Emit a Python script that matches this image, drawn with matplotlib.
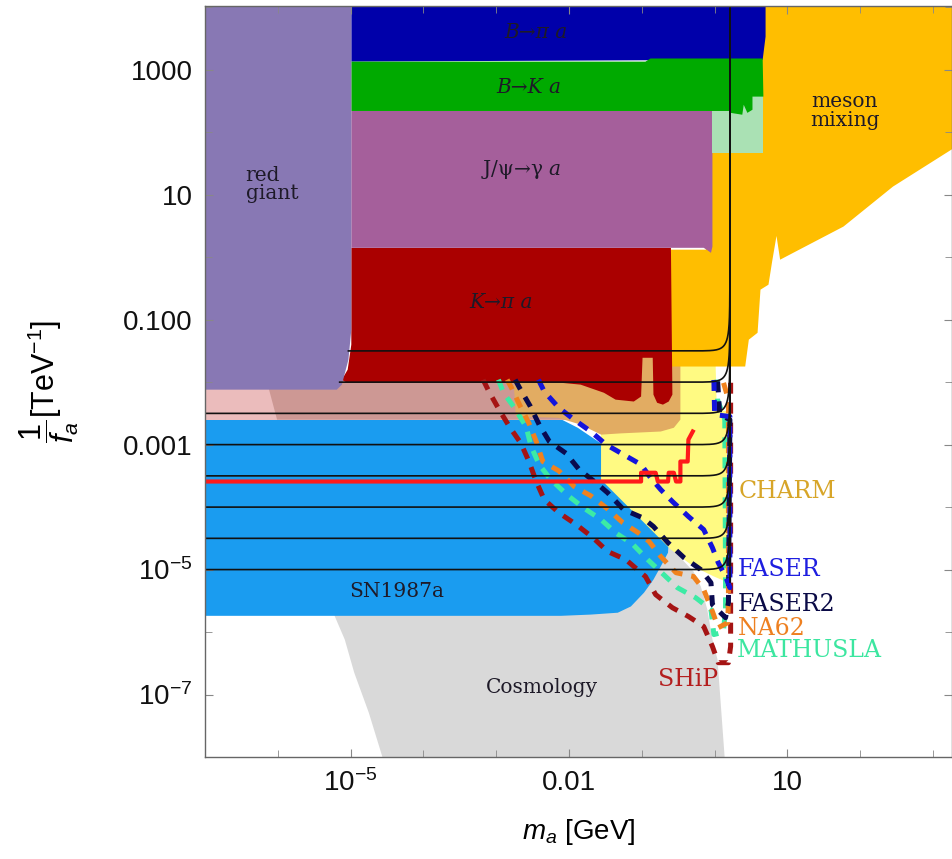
import numpy as np
import matplotlib.pyplot as plt
from matplotlib.ticker import NullFormatter

plt.rcParams['font.family'] = 'Liberation Sans'
plt.rcParams['mathtext.fontset'] = 'custom'
plt.rcParams['mathtext.rm'] = 'Liberation Sans'
plt.rcParams['mathtext.it'] = 'Liberation Sans:italic'

# all boundaries are given as log10(m_a / GeV), log10(1/f_a * TeV)

# excluded regions
cosmo_x = [-4.51, -4.75, -4.95, -5.08, -5.22, -5.22, -0.64, -0.47, -0.29, -0.19, -0.10, -0.03, 0.04, 0.15]
cosmo_y = [-8.2, -7.29, -6.65, -6.12, -5.74, -4.6, -4.6, -4.81, -5.03, -5.27, -5.64, -6.12, -6.44, -8.2]

sn_x = [-7.2, -2.15, -1.88, -1.60, -1.29, -1.05, -0.88, -0.74, -0.64, -0.63, -0.64, -0.74, -0.84, -0.97,
        -1.15, -1.33, -1.70, -2.11, -7.2]
sn_y = [-2.55, -2.57, -2.73, -2.95, -3.16, -3.43, -3.69, -3.91, -4.20, -4.52, -4.73, -4.95, -5.16, -5.37,
        -5.59, -5.69, -5.72, -5.74, -5.74]

pink_x = [-7.2, -1.5, -1.5, -7.2]
pink_y = [-1.9, -1.9, -2.6, -2.6]
rose_x = [-6.2, -1.5, -1.5, -6.01, -6.12, -6.2]
rose_y = [-1.9, -1.9, -2.6, -2.6, -2.12, -1.9]

tan_x = [-2.79, -0.47, -0.47, -0.56, -0.74, -1.29, -1.56, -1.84, -2.15, -2.73]
tan_y = [-1.48, -1.48, -2.60, -2.73, -2.79, -2.82, -2.84, -2.68, -2.57, -2.55]

charm_x = [-1.56, 0.01, 0.03, 0.19, 0.19, -0.01, -0.29, -0.60, -1.56]
charm_y = [-1.56, -1.56, -2.44, -2.47, -5.21, -5.11, -4.95, -4.68, -3.56]

mix_x = [-0.12, 3.4, 3.4, 2.45, 1.77, 1.08, 0.90, 0.85, 0.79, 0.74, 0.63, 0.59, 0.47, 0.42, -0.60, -0.60, -0.12]
mix_y = [4.2, 4.2, 1.83, 1.13, 0.49, 0.07, -0.04, 0.34, -0.07, -0.44, -0.52, -1.21, -1.32, -1.75, -1.75, 0.12, 0.12]

kpi_x = [-4.99, -0.60, -0.58, -0.63, -0.71, -0.79, -0.84, -0.85, -0.99, -1.01, -1.11, -1.36, -1.52, -1.84,
         -2.11, -5.05, -5.12, -5.04, -4.99]
kpi_y = [0.15, 0.15, -2.20, -2.31, -2.36, -2.33, -2.20, -1.61, -1.61, -2.23, -2.31, -2.28, -2.17, -2.04,
         -2.01, -2.01, -1.96, -1.80, -1.40]

jpsi_x = [-4.99, -0.03, -0.03, -0.05, -0.11, -0.15, -4.99]
jpsi_y = [2.34, 2.34, 0.17, 0.07, 0.12, 0.15, 0.15]

bk2_x = [-0.03, 0.66, 0.66, -0.03]
bk2_y = [2.6, 2.6, 1.67, 1.67]

bpi_x = [-4.99, 0.70, 0.70, 0.66, -4.99]
bpi_y = [4.2, 4.2, 3.53, 3.16, 3.13]

bk_x = [-4.99, -0.95, -0.88, 0.66, 0.67, 0.52, 0.52, 0.45, 0.40, 0.38, 0.22, 0.22, -4.99]
bk_y = [3.13, 3.13, 3.18, 3.18, 2.57, 2.57, 2.36, 2.31, 2.44, 2.28, 2.31, 2.34, 2.34]

rg_x = [-7.2, -4.99, -4.99, -5.03, -5.12, -5.19, -7.2]
rg_y = [4.2, 4.2, -1.16, -1.64, -2.04, -2.12, -2.12]

# projected sensitivities
ship_x = [-3.18, -3.10, -2.96, -2.82, -2.66, -2.55, -2.45, -2.34, -2.14, -1.90, -1.67, -1.47, -1.22, -0.95,
          -0.81, -0.58, -0.36, -0.15, -0.03, 0.05, 0.19, 0.22, 0.22]
ship_y = [-1.96, -2.15, -2.44, -2.71, -2.98, -3.27, -3.59, -3.88, -4.09, -4.28, -4.49, -4.71, -4.84, -5.11,
          -5.40, -5.61, -5.75, -5.91, -6.23, -6.49, -6.49, -6.23, -2.01]

mathusla_x = [-2.97, -2.90, -2.75, -2.59, -2.52, -2.41, -2.25, -2.01, -1.79, -1.56, -1.36, -1.12, -0.92,
              -0.70, -0.51, -0.26, -0.05, -0.01, 0.12, 0.15, 0.15, 0.14, 0.04, 0.03]
mathusla_y = [-1.96, -2.17, -2.41, -2.71, -3.03, -3.32, -3.56, -3.82, -4.02, -4.20, -4.41, -4.60, -4.84,
              -5.08, -5.29, -5.45, -5.64, -6.04, -6.00, -5.64, -5.21, -2.60, -2.28, -1.96]

na62_x = [-2.85, -2.79, -2.68, -2.55, -2.45, -2.36, -2.14, -1.93, -1.70, -1.49, -1.26, -1.05, -0.90, -0.74,
          -0.53, -0.29, -0.15, -0.03, 0.05, 0.18, 0.19, 0.19, 0.11]
na62_y = [-1.96, -2.09, -2.36, -2.66, -2.95, -3.27, -3.42, -3.67, -3.82, -4.01, -4.25, -4.41, -4.55, -4.79,
          -5.05, -5.11, -5.32, -5.67, -5.93, -5.85, -5.48, -2.28, -1.96]

faser2_x = [-2.74, -2.68, -2.53, -2.41, -2.27, -2.04, -1.86, -1.63, -1.47, -1.25, -0.99, -0.84, -0.64, -0.42,
            -0.19, -0.05, -0.03, 0.15, 0.19, 0.21, 0.07, 0.04]
faser2_y = [-1.96, -2.09, -2.39, -2.68, -2.95, -3.14, -3.40, -3.61, -3.77, -4.04, -4.17, -4.31, -4.57, -4.81,
            -5.00, -5.21, -5.56, -5.77, -5.53, -2.60, -2.52, -1.96]

faser_x = [-2.42, -2.34, -2.14, -1.93, -1.70, -1.49, -1.25, -1.01, -0.88, -0.74, -0.58, -0.36, -0.15, -0.03,
           0.05, 0.15, 0.21, 0.21, 0.00, -0.01]
faser_y = [-1.96, -2.15, -2.41, -2.60, -2.79, -3.00, -3.16, -3.32, -3.53, -3.72, -3.91, -4.15, -4.36, -4.65,
           -4.89, -5.11, -5.29, -2.55, -2.52, -1.96]

# solid red limit
red_x = [-7.2, -1.01, -1.01, -0.81, -0.78, -0.64, -0.63, -0.56, -0.53, -0.47, -0.47, -0.37, -0.36, -0.30]
red_y = [-3.59, -3.59, -3.45, -3.45, -3.59, -3.59, -3.45, -3.45, -3.59, -3.59, -3.27, -3.27, -2.92, -2.79]

# thin black contours: level, left end
contour_levels = [-1.5, -2.0, -2.5, -3.0, -3.5, -4.0, -4.5, -5.0]
contour_start = [-5.03, -5.15, -7.2, -7.2, -7.2, -7.2, -7.2, -7.2]
m_edge = 0.21

fig = plt.figure(figsize=(9.53, 8.59), dpi=100)
ax = fig.add_axes([0.2151, 0.1187, 0.7838, 0.8743])
ax.set_xscale('log')
ax.set_yscale('log')


def region(lx, ly, color):
    ax.fill(10**np.array(lx), 10**np.array(ly), color=color, lw=0)


def dashed(lx, ly, color):
    ax.plot(10**np.array(lx), 10**np.array(ly), color=color, lw=3.6, dashes=(2.2, 1.8),
            dash_capstyle='butt', solid_joinstyle='miter')


region(cosmo_x, cosmo_y, '#d9d9d9')
region(sn_x, sn_y, '#1a9cf0')
region(pink_x, pink_y, '#ebbcbc')
region(rose_x, rose_y, '#cd9894')
region(charm_x, charm_y, '#fffa82')
region(tan_x, tan_y, '#e2ac62')

dashed(ship_x, ship_y, '#a51414')
dashed(mathusla_x, mathusla_y, '#3ceba5')
dashed(na62_x, na62_y, '#f0821e')
dashed(faser2_x, faser2_y, '#0a0a50')
dashed(faser_x, faser_y, '#1414dc')

ax.plot(10**np.array(red_x), 10**np.array(red_y), color='#ff1a1a', lw=3.0)

region(mix_x, mix_y, '#ffbe00')
region(kpi_x, kpi_y, '#aa0000')
region(jpsi_x, jpsi_y, '#a55f9b')
region(bk2_x, bk2_y, '#aae1b4')
region(bpi_x, bpi_y, '#0000aa')
region(bk_x, bk_y, '#00aa00')
region(rg_x, rg_y, '#8878b4')

# contours bending up into the vertical edge
for lev, x0 in zip(contour_levels, contour_start):
    s = np.logspace(np.log10(1 - 10**(x0 - m_edge)), -13, 600)
    lx = m_edge + np.log10(1 - s)
    ly = lev - 0.5 * np.log10(1 - 10**(6 * (lx - m_edge)))
    ax.plot(10**lx, 10**ly, color='#111111', lw=1.2)
ax.plot([10**m_edge] * 2, [10**-5.2, 10**4.3], color='#111111', lw=1.2)

serif = dict(fontfamily='DejaVu Serif', color='#1e1a28', ha='center', va='center')
ax.text(10**-2.45, 10**3.59, 'B→π a', fontsize=14.5, style='italic', **serif)
ax.text(10**-2.55, 10**2.71, 'B→K a', fontsize=14.5, style='italic', **serif)
ax.text(10**-2.66, 10**1.40, 'J/ψ→γ $a$', fontsize=14.5, math_fontfamily='dejavuserif', **serif)
ax.text(10**-2.93, 10**-0.73, 'K→π a', fontsize=14.5, style='italic', **serif)
ax.text(10**-6.08, 10**1.16, 'red\ngiant', fontsize=14.5, multialignment='left', linespacing=0.95, **serif)
ax.text(10**1.79, 10**2.34, 'meson\nmixing', fontsize=14.5, linespacing=0.95, **serif)
ax.text(10**-4.36, 10**-5.35, 'SN1987a', fontsize=14.5, **serif)
ax.text(10**-2.37, 10**-6.89, 'Cosmology', fontsize=14.5, **serif)

tags = [('CHARM', 0.33, -3.75, '#d7a528'), ('FASER', 0.32, -5.0, '#1e1ee0'),
        ('FASER2', 0.32, -5.56, '#0a0a46'), ('NA62', 0.32, -5.94, '#ee8020'),
        ('MATHUSLA', 0.30, -6.30, '#3ce6a0'), ('SHiP', -0.78, -6.76, '#b41e1e')]
for name, tx, ty, col in tags:
    ax.text(10**tx, 10**ty, name, fontsize=17, fontfamily='DejaVu Serif', color=col,
            ha='left', va='center')

ax.set_xlim(10**-6.97, 10**3.26)
ax.set_ylim(10**-7.99, 10**4.02)

ax.set_xticks([10.0**k for k in range(-7, 4)], minor=True)
ax.set_xticks([1e-5, 1e-2, 1e1])
ax.set_xticklabels([r'$10^{-5}$', '0.01', '10'])
ax.set_yticks([10.0**k for k in range(-8, 5)], minor=True)
ax.set_yticks([1e3, 1e1, 1e-1, 1e-3, 1e-5, 1e-7])
ax.set_yticklabels(['1000', '10', '0.100', '0.001', r'$10^{-5}$', r'$10^{-7}$'])
ax.xaxis.set_minor_formatter(NullFormatter())
ax.yaxis.set_minor_formatter(NullFormatter())
ax.tick_params(which='both', direction='in', top=True, right=True, color='#888888',
               labelsize=20, labelcolor='#111111', pad=9)
ax.tick_params(which='major', length=6)
ax.tick_params(which='minor', length=5)
for sp in ax.spines.values():
    sp.set_color('#666666')
    sp.set_linewidth(1.0)

ax.set_xlabel(r'$m_a$ [GeV]', fontsize=20, labelpad=14)
ax.set_ylabel(r'$\dfrac{1}{f_a}$[TeV$^{-1}$]', fontsize=22, labelpad=30)

fig.savefig('out.png', dpi=100)
